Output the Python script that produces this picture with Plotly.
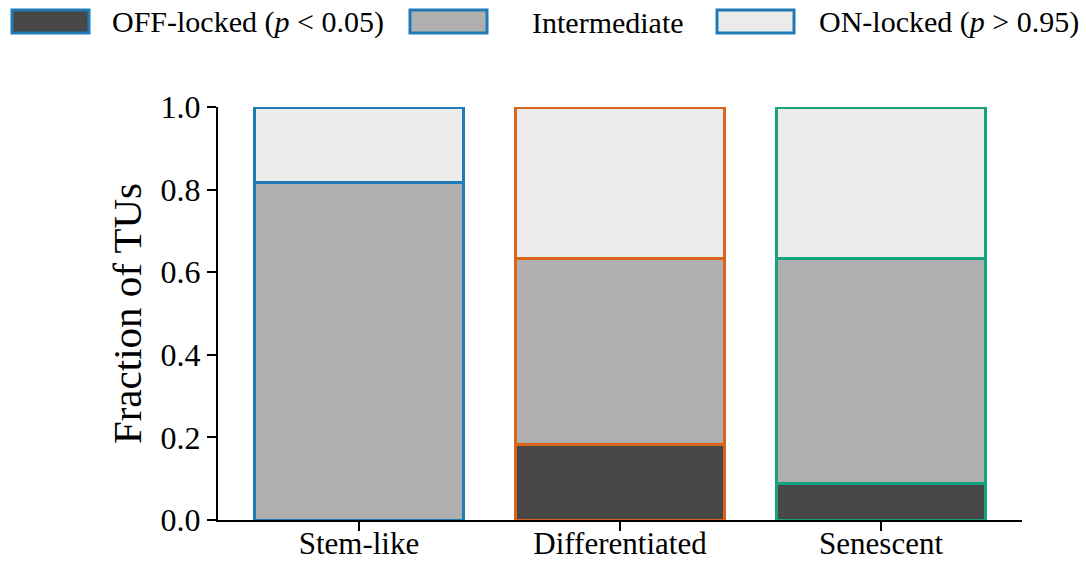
import plotly.graph_objects as go

categories = ["Stem-like", "Differentiated", "Senescent"]
off_locked = [0.0, 0.182, 0.088]
intermediate = [0.817, 0.452, 0.546]
on_locked = [0.183, 0.366, 0.366]
series_names = ["OFF-locked (<i>p</i> &lt; 0.05)", "Intermediate", "ON-locked (<i>p</i> &gt; 0.95)"]
fill_colors = ["#474747", "#afafaf", "#ebebeb"]
edge_colors = ["#1f7bb6", "#d8651a", "#16a37d"]
y_ticks = [0.0, 0.2, 0.4, 0.6, 0.8, 1.0]

FONT = "Liberation Serif"
W, H = 1086, 563
L, R, T, B = 218, 1022, 107, 520

fig = go.Figure()
for vals, name, fc in zip([off_locked, intermediate, on_locked], series_names, fill_colors):
    fig.add_trace(go.Bar(
        x=list(range(len(categories))), y=vals, name=name, width=0.8,
        marker=dict(color=fc, line=dict(color=edge_colors, width=3)),
        showlegend=False,
    ))

# manual legend (wide patches like the reference)
def px2paper(xp, yp):
    return (xp - L) / (R - L), (B - yp) / (B - T)

legend_items = [(12, 110), (410, 530), (717, 817)]
for (px0, tx), name, fc in zip(legend_items, series_names, fill_colors):
    x0, y0 = px2paper(px0, 33)
    x1, y1 = px2paper(px0 + 77, 10)
    fig.add_shape(type="rect", xref="paper", yref="paper", x0=x0, y0=y0, x1=x1, y1=y1,
                  fillcolor=fc, line=dict(color=edge_colors[0], width=3))
    xt, yt = px2paper(tx, 22)
    fig.add_annotation(xref="paper", yref="paper", x=xt, y=yt, text=name, showarrow=False,
                       xanchor="left", yanchor="middle", font=dict(family=FONT, size=30, color="black"))

fig.update_layout(
    barmode="stack",
    width=W, height=H, autosize=False,
    margin=dict(l=L, r=W - R, t=T, b=H - B, pad=0),
    plot_bgcolor="white", paper_bgcolor="white",
    font=dict(family=FONT, size=32, color="black"),
    bargap=0.2,
)
fig.update_xaxes(
    range=[-0.54, 2.54], tickmode="array", tickvals=list(range(len(categories))), ticktext=categories,
    showline=True, linecolor="black", linewidth=2, ticks="outside", ticklen=9, tickwidth=2,
    tickcolor="black", showgrid=False, zeroline=False, tickfont=dict(family=FONT, size=31),
    automargin=False, ticklabelstandoff=-14,
)
fig.update_yaxes(
    range=[0, 1], tickmode="array", tickvals=y_ticks, ticktext=[f"{v:.1f}" for v in y_ticks],
    showline=True, linecolor="black", linewidth=2, ticks="outside", ticklen=9, tickwidth=2,
    tickcolor="black", showgrid=False, zeroline=False, tickfont=dict(family=FONT, size=32),
    title=dict(text="Fraction of TUs", font=dict(family=FONT, size=41), standoff=6),
    automargin=False,
)

fig.write_html("out.html")
